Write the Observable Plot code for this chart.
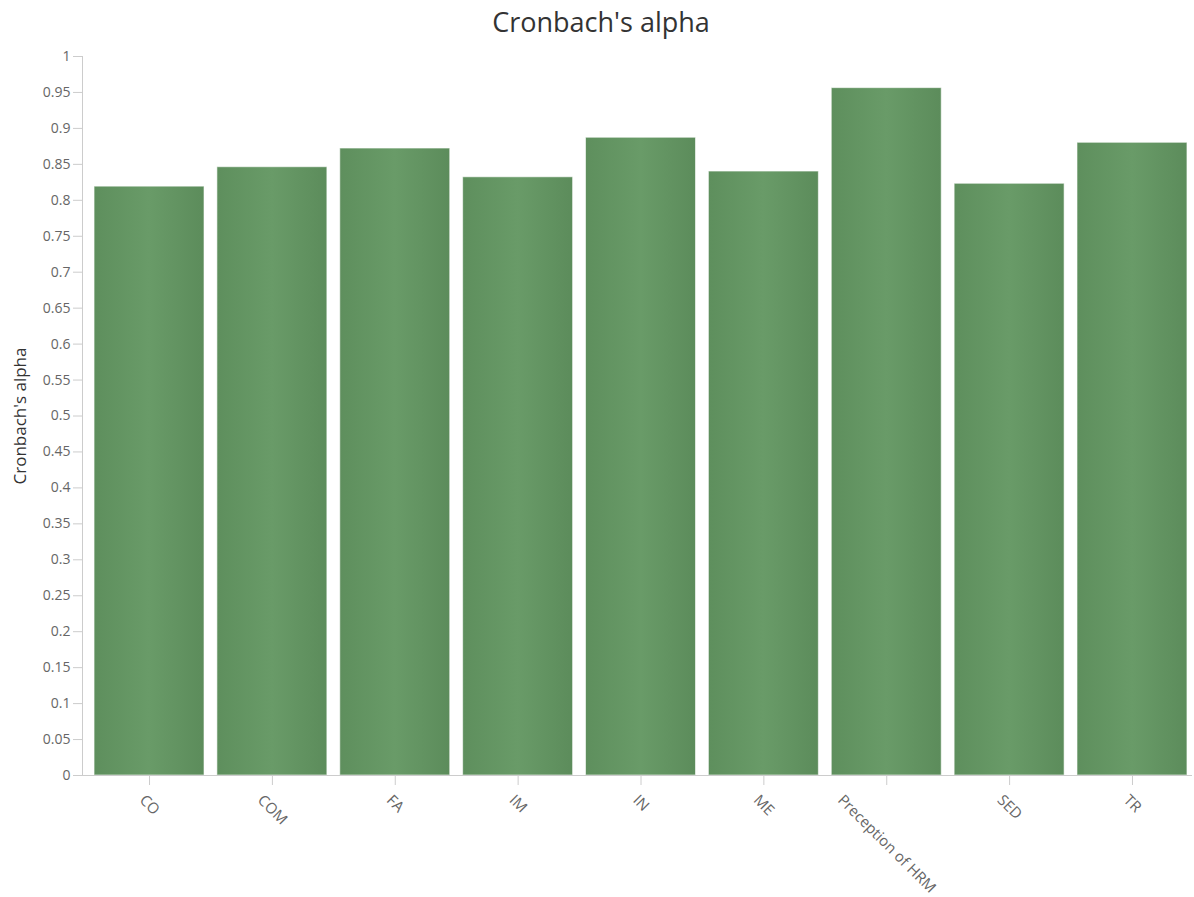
<!DOCTYPE html>
<html>
<head>
<meta charset="utf-8">
<script src="https://cdn.jsdelivr.net/npm/d3@7"></script>
<script src="https://cdn.jsdelivr.net/npm/@observablehq/plot@0.6"></script>
<style>
  html, body { margin: 0; padding: 0; background: #fff; }
  body { width: 1194px; height: 897px; overflow: hidden; font-family: "Open Sans", "Noto Sans", sans-serif; }
  #title { height: 44px; line-height: 44px; text-align: center; font-size: 27px; color: #333; padding-left: 8px; }
</style>
</head>
<body>
<div id="title">Cronbach's alpha</div>
<div id="chart"></div>
<script>
const categories = ["CO", "COM", "FA", "IM", "IN", "ME", "Preception of HRM", "SED", "TR"];
const alphaValues = [0.819, 0.846, 0.872, 0.832, 0.887, 0.840, 0.956, 0.823, 0.880];
const yTicks = [0, 0.05, 0.1, 0.15, 0.2, 0.25, 0.3, 0.35, 0.4, 0.45, 0.5, 0.55, 0.6, 0.65, 0.7, 0.75, 0.8, 0.85, 0.9, 0.95, 1];
const yLabel = "Cronbach's alpha";

const data = categories.map((c, i) => ({category: c, value: alphaValues[i]}));

const plot = Plot.plot({
  width: 1194,
  height: 853,
  marginTop: 12,
  marginBottom: 122,
  marginLeft: 82,
  marginRight: 2,
  style: {fontFamily: "'Open Sans', 'Noto Sans', sans-serif", background: "#fff", overflow: "visible"},
  x: {domain: categories, range: [82, 1199], paddingInner: 0.105, paddingOuter: 0.098, round: false},
  y: {domain: [0, 1]},
  marks: [
    Plot.barY(data, {x: "category", y: "value", fill: "url(#barGrad)", stroke: "rgba(255,255,255,0.6)", strokeWidth: 1}),
    Plot.ruleY([0], {stroke: "#ccc"}),
    Plot.frame({anchor: "left", stroke: "#ccc"}),
    Plot.axisY({
      ticks: yTicks,
      tickFormat: d => String(+d.toFixed(2)),
      tickSize: 9,
      tickPadding: 3,
      stroke: "#ccc",
      color: "#666",
      fontSize: 14,
      label: null
    }),
    Plot.axisX({
      tickSize: 10,
      tickPadding: 12,
      tickRotate: 45,
      textAnchor: "middle",
      lineAnchor: "middle",
      stroke: "#ccc",
      color: "#666",
      fontSize: 15,
      label: null
    }),
    Plot.text([yLabel], {
      frameAnchor: "left",
      dx: -62,
      rotate: -90,
      fontSize: 17,
      fill: "#333",
      textAnchor: "middle",
      lineAnchor: "middle"
    })
  ]
});

const svg = d3.select(plot);
const defs = svg.insert("defs", ":first-child");
const grad = defs.append("linearGradient").attr("id", "barGrad").attr("x1", "0").attr("x2", "1").attr("y1", "0").attr("y2", "0");
grad.append("stop").attr("offset", "0%").attr("stop-color", "#5e8f5d");
grad.append("stop").attr("offset", "50%").attr("stop-color", "#699b68");
grad.append("stop").attr("offset", "100%").attr("stop-color", "#5c8c5b");

document.getElementById("chart").appendChild(plot);

// shift rotated x labels so each label's center hangs below its tick
svg.selectAll('g[aria-label="x-axis tick label"] text').each(function() {
  const L = this.getComputedTextLength();
  const t = this.getAttribute("transform") || "";
  this.setAttribute("transform", `translate(0,${(L * 0.354).toFixed(1)}) ` + t);
});
</script>
</body>
</html>
